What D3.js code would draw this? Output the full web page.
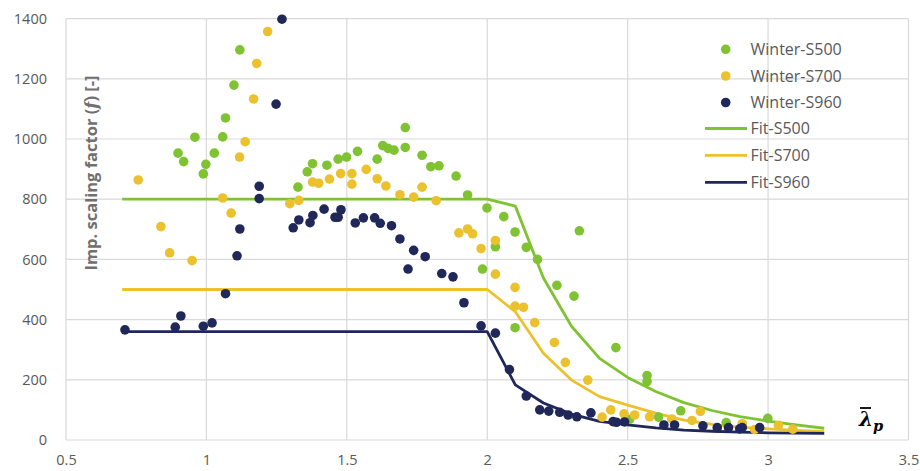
<!DOCTYPE html>
<html>
<head>
<meta charset="utf-8">
<script src="https://cdn.jsdelivr.net/npm/d3@7"></script>
<style>
  html, body { margin: 0; padding: 0; background: #fff; }
  svg { display: block; }
</style>
</head>
<body>
<svg id="chart" width="920" height="471"></svg>
<script>
// Winter test results, [slenderness, scaling factor]
const winterS500 = [
  [0.899,953],[0.919,925],[0.959,1006],[0.989,884],[0.998,916],[1.028,953],[1.058,1007],[1.068,1070],[1.098,1179],[1.119,1296],
  [1.326,840],[1.359,891],[1.378,918],[1.429,913],[1.469,933],[1.499,940],[1.538,959],[1.608,933],[1.628,978],[1.647,969],
  [1.668,963],[1.708,972],[1.708,1038],[1.768,946],[1.799,908],[1.828,911],[1.889,877],[1.930,814],
  [1.983,568],[1.999,771],[2.029,642],[2.059,742],[2.099,691],[2.099,373],[2.139,640],[2.179,600],[2.248,514],[2.309,478],
  [2.328,695],[2.458,307],[2.569,214],[2.569,194],[2.507,69],[2.610,76],[2.689,97],[2.851,58],[2.999,72]
];
const winterS700 = [
  [0.757,864],[0.838,709],[0.869,622],[0.949,596],[1.058,804],[1.088,754],[1.118,940],[1.138,991],[1.168,1133],[1.179,1251],[1.218,1357],
  [1.297,785],[1.329,796],[1.378,857],[1.400,853],[1.438,867],[1.478,885],[1.518,885],[1.518,850],[1.569,899],[1.608,868],
  [1.639,844],[1.689,815],[1.738,807],[1.768,840],[1.818,795],[1.899,688],[1.930,701],[1.948,685],[1.978,636],[2.029,663],
  [2.029,551],[2.099,507],[2.099,445],[2.129,441],[2.169,390],[2.239,324],[2.278,258],[2.358,199],[2.409,76],[2.440,100],
  [2.487,87],[2.525,83],[2.578,77],[2.657,70],[2.729,65],[2.759,95],[2.908,54],[2.952,35],[3.037,49],[3.088,36]
];
const winterS960 = [
  [0.710,366],[0.889,375],[0.909,412],[0.989,378],[1.020,389],[1.068,486],[1.109,612],[1.119,701],[1.188,802],[1.188,843],[1.248,1116],[1.269,1398],
  [1.309,705],[1.329,731],[1.369,722],[1.379,746],[1.419,767],[1.458,740],[1.469,740],[1.479,765],[1.530,721],[1.559,738],
  [1.599,738],[1.619,720],[1.659,712],[1.689,668],[1.718,568],[1.738,630],[1.779,609],[1.838,553],[1.878,542],[1.917,456],
  [1.978,379],[2.029,355],[2.079,234],[2.139,146],[2.187,100],[2.219,96],[2.258,92],[2.288,83],[2.319,77],[2.369,90],
  [2.448,61],[2.460,59],[2.489,60],[2.629,50],[2.667,50],[2.768,47],[2.819,41],[2.859,41],[2.899,37],[2.908,41],[2.970,41]
];

// Fitted design curves
const fitX    = [0.7, 2.0, 2.1, 2.2, 2.3, 2.4, 2.5, 2.6, 2.7, 2.8, 2.9, 3.0, 3.1, 3.2];
const fitS500 = [800, 800, 777, 538, 378, 271, 208, 161, 124, 98, 78, 63, 50, 39];
const fitS700 = [500, 500, 426, 288, 199, 144, 116, 89, 66, 52, 43, 37, 32, 28];
const fitS960 = [360, 360, 183, 123, 86, 62, 50, 40, 33, 29, 26, 24, 23, 22];

const xTicks = [0.5, 1, 1.5, 2, 2.5, 3, 3.5];
const yTicks = [0, 200, 400, 600, 800, 1000, 1200, 1400];

const colors = { s500: "#7FC232", s700: "#EBC12E", s960: "#1F2858" };

const svg = d3.select("#chart");
const x = d3.scaleLinear().domain([0.5, 3.5]).range([66, 908.5]);
const y = d3.scaleLinear().domain([0, 1400]).range([440, 18.6]);

const font = "'Open Sans', 'DejaVu Sans', sans-serif";

// grid
const grid = svg.append("g");
grid.selectAll("line.h").data(yTicks).join("line")
  .attr("x1", x(0.5)).attr("x2", x(3.5))
  .attr("y1", d => y(d)).attr("y2", d => y(d))
  .attr("stroke", "#d9d9d9").attr("stroke-width", 1.2);
grid.selectAll("line.v").data(xTicks).join("line")
  .attr("x1", d => x(d)).attr("x2", d => x(d))
  .attr("y1", y(0)).attr("y2", y(1400))
  .attr("stroke", "#d9d9d9").attr("stroke-width", 1.2);

// axes (labels only, the frame comes from the grid)
const yAxis = d3.axisLeft(y).tickValues(yTicks).tickSize(0).tickPadding(0).tickFormat(d3.format("d"));
svg.append("g").attr("transform", "translate(47,0)").call(yAxis)
  .call(g => g.select(".domain").remove())
  .selectAll("text").attr("font-family", font).attr("font-size", 14.5).attr("fill", "#595959");

const xAxis = d3.axisBottom(x).tickValues(xTicks).tickSize(0).tickPadding(0).tickFormat(d => String(d));
svg.append("g").attr("transform", "translate(0,455)").call(xAxis)
  .call(g => g.select(".domain").remove())
  .selectAll("text").attr("font-family", font).attr("font-size", 14.5).attr("fill", "#595959");

// y-axis title
const yt = svg.append("text")
  .attr("transform", "translate(97,173) rotate(-90)")
  .attr("text-anchor", "middle")
  .attr("font-family", font).attr("font-size", 16.5).attr("font-weight", "bold")
  .attr("fill", "#707070");
yt.append("tspan").text("Imp. scaling factor (");
yt.append("tspan").attr("font-style", "italic").attr("font-family", "'DejaVu Serif', serif").text("f");
yt.append("tspan").text(") [-]");

// x-axis symbol: lambda bar, subscript p
const xl = svg.append("text")
  .attr("x", 859).attr("y", 426)
  .attr("font-family", "'DejaVu Serif', serif").attr("font-weight", "bold").attr("font-style", "italic")
  .attr("font-size", 20).attr("fill", "#000");
xl.append("tspan").text("λ");
xl.append("tspan").attr("font-size", 14.5).attr("dy", 5).text("p");
svg.append("line").attr("x1", 860).attr("x2", 871).attr("y1", 408).attr("y2", 408)
  .attr("stroke", "#000").attr("stroke-width", 1.8);

// fit lines
const line = d3.line().x(d => x(d[0])).y(d => y(d[1]));
const fits = [
  { name: "Fit-S500", vals: fitS500, color: colors.s500 },
  { name: "Fit-S700", vals: fitS700, color: colors.s700 },
  { name: "Fit-S960", vals: fitS960, color: colors.s960 }
];
svg.append("g").selectAll("path").data(fits).join("path")
  .attr("d", f => line(fitX.map((xv, i) => [xv, f.vals[i]])))
  .attr("fill", "none").attr("stroke", f => f.color).attr("stroke-width", 2.8)
  .attr("stroke-linejoin", "round");

// test points
const scatter = [
  { name: "Winter-S500", pts: winterS500, color: colors.s500 },
  { name: "Winter-S700", pts: winterS700, color: colors.s700 },
  { name: "Winter-S960", pts: winterS960, color: colors.s960 }
];
scatter.forEach(s => {
  svg.append("g").selectAll("circle").data(s.pts).join("circle")
    .attr("cx", d => x(d[0])).attr("cy", d => y(d[1])).attr("r", 4.8)
    .attr("fill", s.color);
});

// legend
const leg = svg.append("g");
const legRows = [49.3, 76, 102.5, 128.5, 155.3, 182.3];
scatter.forEach((s, i) => {
  leg.append("circle").attr("cx", 725.7).attr("cy", legRows[i]).attr("r", 4.8).attr("fill", s.color);
  leg.append("text").attr("x", 750.5).attr("y", legRows[i]).attr("dy", "0.35em")
    .attr("font-family", font).attr("font-size", 16).attr("fill", "#595959").text(s.name);
});
fits.forEach((f, i) => {
  const yy = legRows[i + 3];
  leg.append("line").attr("x1", 705).attr("x2", 747).attr("y1", yy).attr("y2", yy)
    .attr("stroke", f.color).attr("stroke-width", 2.8);
  leg.append("text").attr("x", 750.5).attr("y", yy).attr("dy", "0.35em")
    .attr("font-family", font).attr("font-size", 16).attr("fill", "#595959").text(f.name);
});
</script>
</body>
</html>
